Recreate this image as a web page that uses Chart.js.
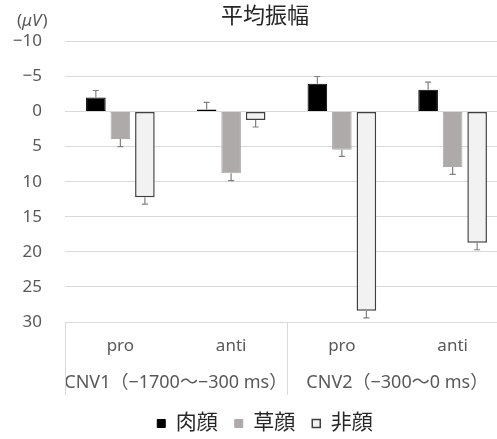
<!DOCTYPE html>
<html><head><meta charset="utf-8">
<script src="https://cdn.jsdelivr.net/npm/chart.js@4/dist/chart.umd.min.js"></script>
<style>
html,body{margin:0;padding:0;background:#fff;overflow:hidden;}
#wrap{width:497px;height:439px;overflow:hidden;position:relative;}
#box{width:530px;height:439px;position:absolute;left:0;top:0;}
</style></head>
<body><div id="wrap"><div id="box"><canvas id="c"></canvas></div></div>
<script>
const categories = ['pro', 'anti', 'pro', 'anti'];
const groups = ['CNV1（−1700〜−300 ms）', 'CNV2（−300〜0 ms）'];
const seriesNames = ['肉顔', '草顔', '非顔'];
const meatFace = [-2.0, -0.3, -3.95, -3.1];
const grassFace = [3.9, 8.8, 5.45, 7.9];
const nonFace = [12.2, 1.2, 28.4, 18.7];
const meatErr = [1.0, 1.0, 1.05, 1.1];
const grassErr = [1.1, 1.05, 0.95, 1.05];
const nonErr = [1.0, 1.0, 1.0, 1.0];
const yTicks = [-10, -5, 0, 5, 10, 15, 20, 25, 30];
const title = '平均振幅';
const unitLabel = ['(', 'μV', ')'];

const FONT = '"Noto Sans", "Noto Sans CJK JP", sans-serif';
const errs = [meatErr, grassErr, nonErr];

const errorBars = {
  id: 'errorBars',
  afterDatasetsDraw(chart) {
    const ctx = chart.ctx, y = chart.scales.y;
    ctx.save();
    ctx.strokeStyle = '#808080';
    ctx.lineWidth = 1.2;
    chart.data.datasets.forEach((ds, i) => {
      const meta = chart.getDatasetMeta(i);
      meta.data.forEach((el, j) => {
        const v = ds.data[j];
        const e = errs[i][j];
        const s = v < 0 ? -1 : 1;
        const y0 = y.getPixelForValue(v);
        const y1 = y.getPixelForValue(v + s * e);
        ctx.beginPath();
        ctx.moveTo(el.x, y0); ctx.lineTo(el.x, y1);
        ctx.moveTo(el.x - 3, y1); ctx.lineTo(el.x + 3, y1);
        ctx.stroke();
      });
    });
    ctx.restore();
  }
};

const extras = {
  id: 'extras',
  afterDraw(chart) {
    const ctx = chart.ctx, x = chart.scales.x, x2 = chart.scales.x2;
    const ca = chart.chartArea;
    ctx.save();
    ctx.strokeStyle = '#d9d9d9';
    ctx.lineWidth = 1;
    [-0.5, 1.5, 3.5].forEach(v => {
      const px = Math.round(x.getPixelForValue(v)) + 0.5;
      ctx.beginPath(); ctx.moveTo(px, ca.bottom); ctx.lineTo(px, x2.bottom - 1); ctx.stroke();
    });
    ctx.fillStyle = '#595959';
    ctx.textBaseline = 'middle';
    let cx = 17;
    const cy = 21;
    ctx.font = '17px ' + FONT;
    ctx.fillText(unitLabel[0], cx, cy); cx += ctx.measureText(unitLabel[0]).width;
    ctx.font = 'italic 17px ' + FONT;
    ctx.fillText(unitLabel[1], cx, cy); cx += ctx.measureText(unitLabel[1]).width + 1;
    ctx.font = '17px ' + FONT;
    ctx.fillText(unitLabel[2], cx, cy);
    ctx.restore();
  }
};

new Chart(document.getElementById('c'), {
  type: 'bar',
  data: {
    labels: categories,
    datasets: [
      { label: seriesNames[0], data: meatFace, backgroundColor: '#000000', borderColor: '#000000', borderWidth: 1, borderSkipped: false },
      { label: seriesNames[1], data: grassFace, backgroundColor: '#AEAAAA', borderColor: '#AEAAAA', borderWidth: 1, borderSkipped: false },
      { label: seriesNames[2], data: nonFace, backgroundColor: '#F2F2F2', borderColor: '#404040', borderWidth: 1.5, borderSkipped: false }
    ]
  },
  options: {
    responsive: true,
    maintainAspectRatio: false,
    animation: false,
    devicePixelRatio: 1,
    layout: { padding: { left: 0, right: 0, top: 0, bottom: -5 } },
    datasets: { bar: { categoryPercentage: 0.664, barPercentage: 0.8 } },
    scales: {
      y: {
        reverse: true, min: -10, max: 30,
        afterBuildTicks: s => { s.ticks = yTicks.map(v => ({ value: v })); },
        afterFit: s => { s.width = 65; },
        grid: { color: '#d9d9d9', drawTicks: false, lineWidth: 1 },
        border: { display: false },
        ticks: { color: '#595959', font: { family: FONT, size: 17 }, padding: 23,
          callback: v => v < 0 ? '−' + Math.abs(v) : String(v) }
      },
      yRight: {
        type: 'linear', position: 'right', display: true,
        afterFit: s => { s.width = 22; },
        grid: { display: false, drawTicks: false },
        border: { display: false },
        ticks: { display: false }
      },
      x: {
        weight: 0,
        grid: { display: false, drawTicks: false },
        border: { display: true, color: '#d9d9d9' },
        ticks: { color: '#595959', font: { family: FONT, size: 17 }, padding: 13.8 }
      },
      x2: {
        type: 'category', labels: groups, position: 'bottom', offset: true, weight: 1,
        grid: { display: false, drawTicks: false },
        border: { display: false },
        ticks: { color: '#595959', font: { family: FONT, size: 18 }, padding: 2.2, maxRotation: 0, autoSkip: false }
      }
    },
    plugins: {
      title: { display: true, text: title, color: '#262626', font: { family: FONT, size: 22, weight: 'normal' }, padding: { top: 4, bottom: 11 } },
      legend: {
        position: 'bottom',
        labels: { boxWidth: 8, boxHeight: 8, color: '#262626', font: { family: FONT, size: 21 }, padding: 17 }
      },
      tooltip: { enabled: false }
    }
  },
  plugins: [errorBars, extras]
});
</script>
</body></html>
